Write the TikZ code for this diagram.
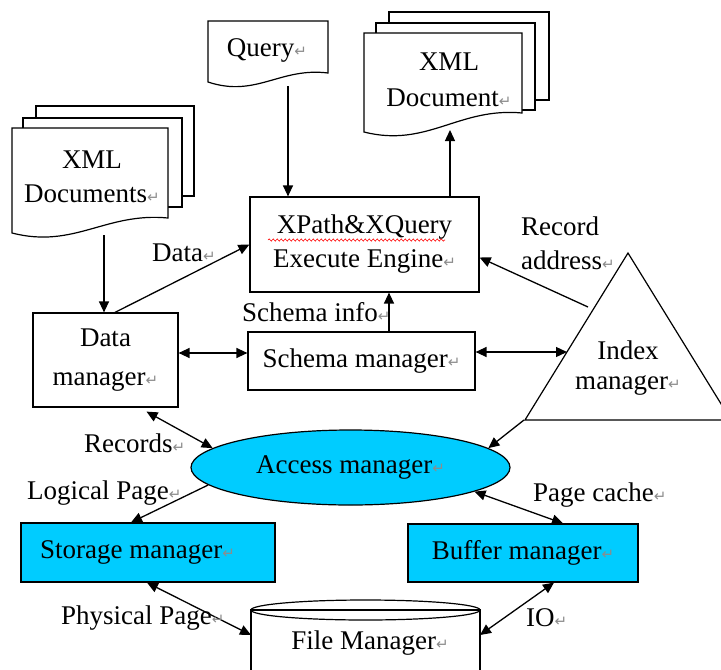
\documentclass[tikz,border=0pt]{standalone}
\usepackage{fontspec}
\setmainfont{Liberation Serif}
\newfontfamily\symfont{DejaVu Sans}
\usetikzlibrary{arrows.meta,shapes.geometric,decorations.pathmorphing,calc}
\definecolor{accesscyan}{RGB}{0,204,255}
% Word-style paragraph mark after each text
\newcommand\pmark{{\symfont\fontsize{15}{15}\selectfont\color{black!45}↵}}
% document page with a wavy bottom: x1, x2, top, bottom-left, bottom-right
\newcommand\docpage[5]{%
  \filldraw[pagestroke] (#1,#3) -- (#2,#3) -- (#2,#5)
    .. controls ({#1+0.6*(#2-#1)},{#5-6}) and ({#1+0.4*(#2-#1)},{#4+16}) .. (#1,#4) -- cycle;}
\begin{document}
\begin{tikzpicture}[x=1pt,y=-1pt,
  every node/.style={font=\fontsize{27}{34}\selectfont, inner sep=0pt},
  pagestroke/.style={draw=black, fill=white, line width=1.2pt},
  box/.style={draw, line width=1.2pt, fill=white, align=center},
  cyanbox/.style={box, fill=accesscyan},
  conn/.style={line width=1.3pt},
  lbl/.style={anchor=west},
  >={Triangle[length=11pt,width=10pt]}]
\useasboundingbox (0,0) rectangle (721,670);

% ---- input document stack (left)
\filldraw[pagestroke] (36,106) rectangle (194,196);
\filldraw[pagestroke] (23,118) rectangle (182,207);
\docpage{12}{168}{128}{233}{218}
\node[align=center] (xdocs) at (92,177) {XML\\Documents\pmark};
\coordinate (xdocsB) at (104,235);

% ---- query document
\docpage{208}{328}{21}{82}{73}
\node (qdoc) at (267,50) {Query\pmark};
\coordinate (qdocB) at (288,86);

% ---- output document stack (top right)
\filldraw[pagestroke] (389,12) rectangle (549,100);
\filldraw[pagestroke] (376,23) rectangle (535,110);
\docpage{364}{522}{33}{132}{113}
\node[align=center, font=\fontsize{27}{36}\selectfont] (odoc) at (449,80) {XML\\Document\pmark};
\coordinate (odocB) at (450,130);

% ---- engine and managers
\node[box, minimum width=229, minimum height=95] (xp) at (364.5,244.5)
  {XPath\&XQuery\\Execute Engine\pmark};
\draw[red, line width=0.6pt, decorate,
  decoration={snake, amplitude=1.1pt, segment length=4pt}] (268,240) -- (445,240);

\node[box, minimum width=145, minimum height=94, font=\fontsize{27}{39}\selectfont] (dm) at (105.5,360)
  {Data\\manager\pmark};
\node[box, minimum width=227, minimum height=58] (sm) at (361.5,361) {Schema manager\pmark};

% index manager triangle (runs off the right edge)
\draw[line width=1.2pt, fill=white] (628,253) -- (731,420) -- (525,420) -- cycle;
\node[align=center, font=\fontsize{27}{30}\selectfont] (idx) at (628,368) {Index\\manager\pmark};
\coordinate (idxL) at (567,352);
\coordinate (idxR) at (588,307);
\coordinate (idxB) at (524,420);

\node[ellipse, draw, line width=1.2pt, fill=accesscyan,
  minimum width=319, minimum height=75] (am) at (350.5,467.5) {Access manager\pmark};

\node[cyanbox, minimum width=254, minimum height=59] (st) at (148,552.5) {};
\node[lbl] (stText) at (40,552.5) {Storage manager\pmark};
\node[cyanbox, minimum width=230, minimum height=58] (bm) at (523,553) {Buffer manager\pmark};

% file manager cylinder (bottom cut by the edge)
\filldraw[pagestroke] (251,690) -- (251,610) -- (480,610) -- (480,690);
\draw[line width=1.2pt] (365.5,610) ellipse [x radius=114.5, y radius=10];
\node (fm) at (370,643) {File Manager\pmark};
\coordinate (fmL) at (251,635);
\coordinate (fmR) at (480,635);

% ---- connectors
\draw[conn,->] (xdocsB) -- (xdocsB |- dm.north);
\draw[conn,->] ([xshift=9.5]dm.north) -- (xp.west);
\draw[conn,->] (qdocB) -- (qdocB |- xp.north);
\draw[conn,->] (odocB |- xp.north) -- (odocB);
\draw[conn,->] ([xshift=27.5]sm.north) -- ([xshift=27.5]sm.north |- xp.south);
\draw[conn,<->] ([yshift=7]dm.east) -- ([yshift=7]dm.east -| sm.west);
\draw[conn,<->] (idxL -| sm.east) -- (idxL);
\draw[conn,->] (idxR) -- ([yshift=-13]xp.east);
\draw[conn,<->] ([xshift=41,yshift=-4]dm.south) -- (am.172);
\draw[conn,->] (idxB) -- (am.8);
\draw[conn,->] (am.187) -- ([xshift=-17]st.north);
\draw[conn,<->] (am.-11) -- ([xshift=40]bm.north);
\draw[conn,<->] ([xshift=-1]st.south) -- (fmL);
\draw[conn,<->] ([xshift=31]bm.south) -- (fmR);

% ---- connector labels
\node[lbl] (lData) at (152,253) {Data\pmark};
\node[lbl] (lSchema) at (242,312) {Schema info\pmark};
\node[align=left, anchor=west] (lRec) at (521,243) {Record\\address\pmark};
\node[lbl] (lRecords) at (84,443) {Records\pmark};
\node[lbl] (lLogical) at (27,493) {Logical Page\pmark};
\node[lbl] (lCache) at (533,495) {Page cache\pmark};
\node[lbl] (lPhys) at (61,618) {Physical Page\pmark};
\node[lbl] (lIO) at (526,618) {IO\pmark};
\end{tikzpicture}
\end{document}
